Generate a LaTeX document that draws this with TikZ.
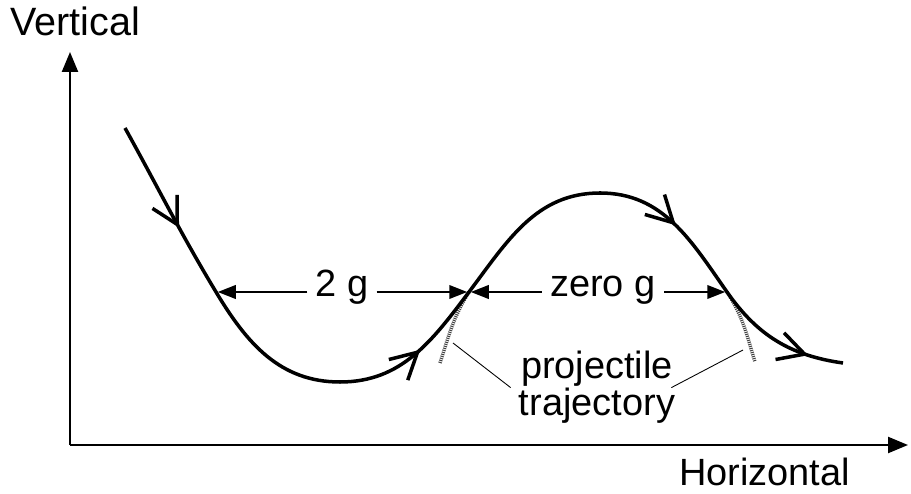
\documentclass[tikz,border=0pt]{standalone}
\usepackage{fontspec}
\setmainfont{Liberation Sans}
\usetikzlibrary{arrows.meta,positioning,calc,decorations.markings}
\tikzset{barb/.tip={Straight Barb[length=0.52cm,width=0.56cm]}, axis/.style={-{Triangle[length=0.4cm,width=0.32cm]}, line width=1.3pt}, dim/.style={-{Triangle[length=0.36cm,width=0.27cm]}, line width=1.3pt, shorten >=1pt}, flight/.style={line width=2pt, postaction={decorate}, decoration={markings, mark=at position 0.114 with {\arrow{barb}}, mark=at position 0.44 with {\arrow{barb}}, mark=at position 0.774 with {\arrow{barb}}, mark=at position 0.964 with {\arrow{barb}}}}, tangent/.style={line width=2pt, dash pattern=on 0.6pt off 0.6pt, black!75}, leader/.style={line width=0.5pt}, lbl/.style={inner sep=0pt, align=center, font=\fontsize{21.6}{17}\selectfont}}
\begin{document}
\begin{tikzpicture}[x=0.02cm,y=0.02cm,font=\fontsize{21.6}{26}\selectfont]
\useasboundingbox (0,0) rectangle (911,493);
\coordinate (O) at (70,48); \coordinate (ytip) at (70,441); \coordinate (xtip) at (908,48);
\coordinate (start) at (125,365); \coordinate (A) at (216,201); \coordinate (low) at (340,111); \coordinate (B) at (469,201); \coordinate (high) at (600,300); \coordinate (C) at (727,201); \coordinate (finish) at (843,130);
\coordinate (tA) at (440,130); \coordinate (tC) at (755,131); \coordinate (lA) at (453,150); \coordinate (lC) at (743,143);
\draw[axis] (O)--(ytip); \draw[axis] (O)--(xtip);
\node[anchor=base west,font=\fontsize{22.5}{26}\selectfont] (vert) at (4,457) {Vertical};
\node[anchor=base west] (horz) at (673,8) {Horizontal};
\draw[tangent] (B) to[out=238,in=72] (tA); \draw[tangent] (C) to[out=-57,in=107] (tC);
\draw[flight] (start) to[out=-61,in=121] (A) to[out=-59,in=180] (low) to[out=0,in=233] (B) to[out=53,in=180] (high) to[out=0,in=125] (C) to[out=-55,in=172] (finish);
\node[anchor=mid,inner xsep=0.16cm] (twog) at (342,201) {2 g};
\node[anchor=mid,inner xsep=0.16cm] (zerog) at (603,201) {zero g};
\draw[dim] (twog.mid west)--(A); \draw[dim] (twog.mid east)--(B); \draw[dim] (zerog.mid west)--(B); \draw[dim] (zerog.mid east)--(C);
\node[lbl,anchor=north] (proj) at (597,142) {projectile\\trajectory};
\draw[leader] (lA)--([xshift=-0.16cm]proj.west); \draw[leader] (lC)--([xshift=-0.08cm]proj.east);
\end{tikzpicture}
\end{document}
